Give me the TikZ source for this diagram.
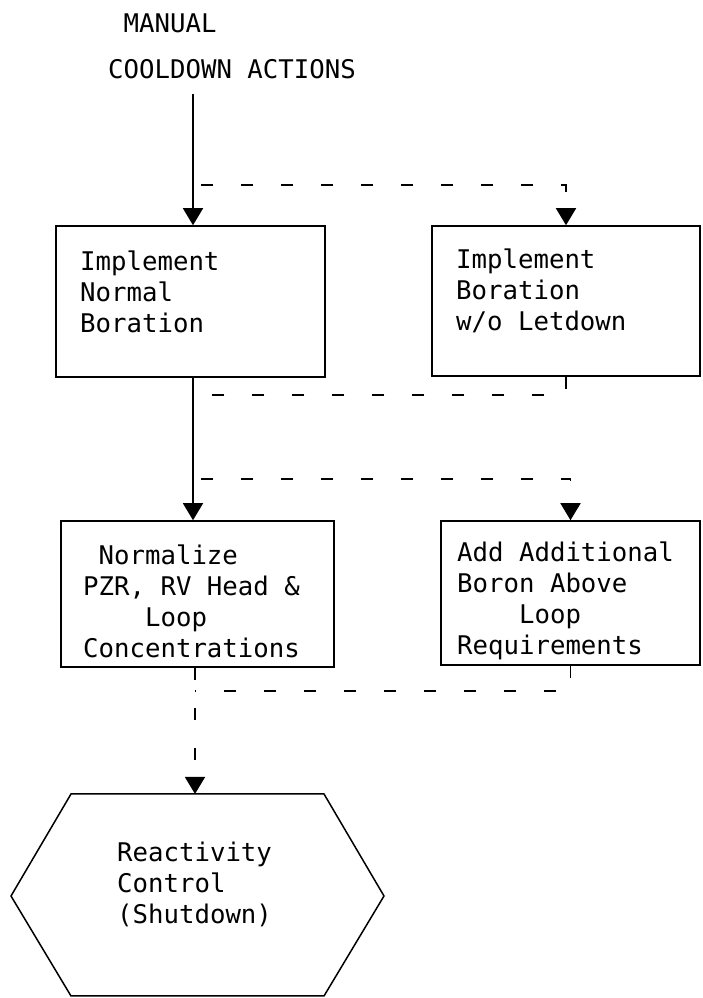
\documentclass[tikz,border=0pt]{standalone}
\usepackage{fontspec}
\newfontfamily\diagmono{DejaVu Sans Mono}
\usetikzlibrary{arrows.meta}
\begin{document}
\begin{tikzpicture}[x=1pt,y=1pt,
  txt/.style={font=\diagmono\fontsize{25.7}{31}\selectfont, align=left, inner sep=0pt, anchor=north west},
  boxst/.style={draw, line width=1.5pt, rectangle, inner sep=0pt},
  arr/.style={line width=1.6pt, -{Triangle[width=20pt,length=17pt]}},
  dsh/.style={line width=1.6pt, dash pattern=on 12pt off 28pt, dash phase=32pt},
  dsharr/.style={dsh, -{Triangle[width=20pt,length=17pt]}}]
\useasboundingbox (0,0) rectangle (702,998);

% boxes
\node[boxst, minimum width=269pt, minimum height=151pt] (box1) at (190.5,696.5) {};
\node[boxst, minimum width=268pt, minimum height=150pt] (box2) at (566,697) {};
\node[boxst, minimum width=273pt, minimum height=146pt] (box3) at (197.5,404) {};
\node[boxst, minimum width=259pt, minimum height=144pt] (box4) at (570.5,405) {};

% hexagon
\draw[line width=1.5pt] (71,204) coordinate (hexTL) -- (324,204) -- (384,102) -- (324,2) -- (71,2) -- (11,102) -- cycle;

% texts
\node[txt] (title) at (108,984) {\hphantom{C}MANUAL\\[15pt]COOLDOWN ACTIONS};
\node[txt] (t1) at (80,747) {Implement\\Normal\\Boration};
\node[txt] (t2) at (456,749) {Implement\\Boration\\w/o Letdown};
\node[txt] (t3) at (83,453) {\hphantom{P}Normalize\\PZR, RV Head \&\\\hphantom{PZRs}Loop\\Concentrations};
\node[txt] (t4) at (457,456) {Add Additional\\Boron Above\\\hphantom{Boro}Loop\\Requirements};
\node[txt] (t5) at (117,156) {Reactivity\\Control\\(Shutdown)};

% junction coordinates
\coordinate (src) at (193,904);
\coordinate (j1) at (193,813);
\coordinate (j2) at (193,603);
\coordinate (j3) at (193,519);
\coordinate (j4) at (195,307);
\coordinate (hextop) at (195,204);

% connectors
\draw[arr] (src) -- (src |- box1.north);
\draw[dsharr] (j1) -| (box2.north);
\draw[arr] (box1.south -| src) -- (box3.north -| src);
\draw[dsh, dash phase=0pt] (box2.south) |- (j2);
\draw[dsharr] (j3) -| (box4.north);
\draw[dsh, dash phase=0pt] (box4.south) |- (j4);
\draw[dsharr, dash phase=0pt] (box3.south -| hextop) -- (hextop);
\end{tikzpicture}
\end{document}
